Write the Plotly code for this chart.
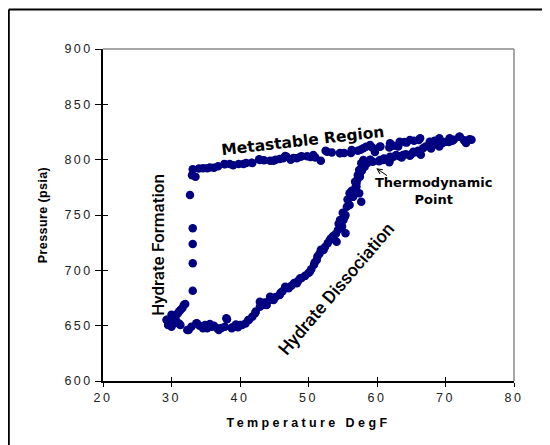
import plotly.graph_objects as go

# ---------------- data ----------------
# Cooling along the metastable line (high T -> hydrate onset)
cool_temp = [73.8, 73.5, 73.0, 72.7, 72.1, 72.0, 71.2, 70.6, 70.5, 69.2, 69.1, 68.4, 67.9,
             67.7, 66.3, 66.1, 65.4, 64.8, 64.3, 64.0, 63.3, 63.1, 62.4, 61.9, 61.8, 60.5,
             60.4, 59.7, 59.3, 59.0, 58.4, 58.0, 57.6, 57.2, 56.3, 56.2, 55.2, 54.6, 54.6,
             53.4, 52.7, 52.5, 51.8, 51.0, 50.7, 50.3, 49.8, 49.0, 48.8, 48.3, 47.8, 47.4,
             46.8, 46.6, 46.3, 45.8, 45.2, 44.9, 44.4, 43.5, 42.9, 42.8, 41.8, 41.7, 40.9,
             40.5, 39.8, 39.0, 38.5, 37.8, 37.7, 36.8, 36.2, 35.6, 35.2, 34.6, 34.0, 33.5,
             33.1, 33.0]
cool_pres = [818.0, 818.4, 815.0, 817.5, 820.8, 820.8, 818.0, 819.3, 816.0, 817.8, 819.3, 817.0,
             815.0, 816.2, 819.3, 817.8, 817.0, 817.8, 815.4, 816.0, 816.2, 812.0, 812.5, 814.8,
             811.0, 812.0, 811.7, 807.0, 811.0, 813.3, 811.7, 810.3, 809.0, 808.0, 808.7, 806.0,
             806.0, 805.8, 806.0, 806.5, 807.2, 808.0, 799.0, 802.0, 804.2, 802.5, 803.0, 803.0,
             802.7, 801.2, 801.5, 800.0, 802.7, 803.3, 801.2, 800.6, 800.0, 799.0, 799.0, 799.5,
             799.7, 800.3, 797.0, 797.3, 797.0, 796.0, 796.0, 795.0, 796.0, 795.8, 796.0, 794.0,
             792.8, 793.0, 792.2, 792.2, 792.0, 784.6, 791.3, 786.0]

# Hydrate formation (pressure drop at ~33 F)
form_temp = [32.7, 33.1, 33.1, 33.1, 33.1]
form_pres = [768.1, 738.0, 723.8, 706.4, 681.6]

# Low-temperature cluster
low_temp = [32.0, 31.8, 31.6, 31.3, 31.1, 30.9, 30.6, 30.1, 30.0, 29.8, 29.3, 29.3, 29.5,
            30.0, 30.5, 31.1, 31.3, 32.3, 32.5, 32.9, 33.6, 33.7, 34.1, 34.6, 34.9, 35.2,
            35.6, 35.9, 36.2, 36.7, 36.9, 37.3, 37.8, 38.0, 38.1, 38.8, 38.9, 39.4, 39.7,
            40.0, 40.3, 40.8]
low_pres = [669.6, 668.7, 666.0, 664.2, 662.8, 661.0, 656.0, 658.1, 659.8, 653.0, 655.1, 655.3,
            650.6, 649.0, 652.1, 652.0, 650.6, 646.0, 646.1, 649.0, 652.0, 652.1, 650.0, 647.7,
            650.5, 647.6, 651.6, 649.0, 650.0, 647.7, 646.1, 648.0, 649.0, 656.7, 655.8, 647.7,
            648.5, 651.0, 648.5, 650.6, 650.7, 652.0]

# Hydrate dissociation (heating)
diss_temp = [41.2, 41.3, 41.8, 42.2, 42.3, 42.9, 42.9, 43.3, 43.6, 43.9, 44.3, 44.4, 44.9,
             45.2, 45.8, 45.9, 46.2, 46.6, 46.7, 47.1, 47.5, 47.9, 48.3, 48.5, 48.8, 49.0,
             49.5, 50.0, 50.2, 50.4, 50.8, 50.9, 51.2, 51.3, 51.6, 51.8, 52.2, 52.4, 52.8,
             53.1, 53.3, 53.6, 54.0, 54.1, 54.3, 54.4, 54.6, 54.8, 54.9, 55.0, 55.1, 55.3,
             55.4, 55.4, 55.6, 55.7, 55.9, 56.0, 56.0, 56.2, 56.3, 56.5, 56.5, 56.8, 56.9,
             57.0, 57.0, 57.1, 57.2, 57.4, 57.4, 57.5, 57.5, 57.7, 57.8, 58.2]
diss_pres = [655.1, 655.2, 658.0, 661.2, 662.7, 667.1, 671.7, 668.7, 671.0, 668.6, 673.2, 676.2,
             673.2, 676.0, 677.7, 679.5, 681.0, 685.2, 684.0, 683.8, 686.0, 688.5, 688.3, 690.5,
             692.8, 693.0, 695.0, 697.5, 698.8, 701.0, 705.0, 707.0, 709.3, 712.5, 715.0, 718.5,
             718.4, 721.0, 724.5, 727.4, 729.0, 731.0, 733.0, 725.9, 736.4, 742.0, 745.5, 739.4,
             739.5, 752.0, 745.5, 748.5, 750.0, 733.5, 757.5, 764.0, 759.0, 759.0, 769.6, 768.0,
             772.0, 766.5, 766.5, 780.0, 775.6, 775.6, 778.6, 781.6, 786.0, 769.6, 790.7, 784.6,
             787.7, 762.0, 790.0, 793.7]

# Heating beyond the thermodynamic point
heat_temp = [57.7, 58.0, 58.6, 59.0, 59.0, 59.4, 60.3, 60.4, 60.9, 61.0, 61.3, 61.8, 61.9,
             62.0, 62.4, 62.8, 63.3, 63.6, 63.8, 64.2, 64.8, 65.0, 65.3, 65.6, 66.0, 66.4,
             66.7, 67.1, 67.9, 68.2, 68.8, 69.1, 69.6, 70.1, 71.0]
heat_pres = [796.7, 799.7, 797.0, 800.0, 799.7, 798.2, 798.6, 799.7, 799.7, 801.0, 800.7, 797.7,
             802.7, 801.0, 802.7, 804.2, 803.0, 802.0, 804.2, 805.0, 803.5, 805.0, 807.2, 806.6,
             808.0, 804.5, 810.3, 812.0, 810.0, 813.3, 814.0, 812.0, 815.0, 816.2, 817.0]

x_ticks = [20, 30, 40, 50, 60, 70, 80]
x_tick_labels = ["20", "30", "40", "50", "60", "70", "80"]
y_ticks = [600, 650, 700, 750, 800, 850, 900]
y_tick_labels = ["600", "650", "700", "750", "800", "850", "900"]

x_title = "Temperature DegF"
y_title = "Pressure (psia)"

# ---------------- figure ----------------
NAVY = "#000080"
# the page body adds an 8px offset, so margins are reduced by 8px
W, H = 542, 437
ML, MR, MT, MB = 95, 36, 41, 64
PW, PH = W - ML - MR, H - MT - MB


def spaced(s, ls):
    return f'<span style="letter-spacing:{ls}px">{s}</span>'


fig = go.Figure()
for tx, py in [(cool_temp, cool_pres), (form_temp, form_pres), (low_temp, low_pres),
               (diss_temp, diss_pres), (heat_temp, heat_pres)]:
    fig.add_trace(go.Scatter(x=tx, y=py, mode="markers",
                             marker=dict(size=8.5, color=NAVY, line=dict(width=0)),
                             showlegend=False, hoverinfo="skip"))

# empty trace on overlay axes (used only for the inner halves of the ticks)
fig.add_trace(go.Scatter(x=[], y=[], xaxis="x2", yaxis="y2", showlegend=False))

tick_font = dict(family="Liberation Sans, Arial, sans-serif", size=12.5, color="#222222")
title_font = dict(family="Liberation Sans, Arial, sans-serif", size=12.5, color="black", weight="bold")

fig.update_layout(
    width=W, height=H,
    margin=dict(l=ML, r=MR, t=MT, b=MB, pad=0, autoexpand=False),
    paper_bgcolor="white", plot_bgcolor="white",
    xaxis=dict(range=[20, 80], tickvals=x_ticks,
               ticktext=[spaced(t, 2.5) for t in x_tick_labels],
               ticks="outside", ticklen=4, tickwidth=1, tickcolor="black",
               showline=True, linecolor="black", linewidth=1.5,
               showgrid=False, zeroline=False, tickfont=tick_font, automargin=False,
               title=dict(text=spaced(x_title, 3.4), font=title_font, standoff=14),
               fixedrange=True),
    yaxis=dict(range=[600, 900], tickvals=y_ticks,
               ticktext=[spaced(t, 2.5) for t in y_tick_labels],
               ticks="outside", ticklen=6, tickwidth=1, tickcolor="black",
               showline=True, linecolor="black", linewidth=1.5,
               showgrid=False, zeroline=False, tickfont=tick_font, automargin=False,
               title=dict(text=spaced(y_title, 0.4), font=title_font, standoff=14),
               fixedrange=True),
    xaxis2=dict(range=[20, 80], overlaying="x", anchor="y2", side="bottom",
                tickvals=x_ticks, ticks="inside", ticklen=4, tickwidth=1, tickcolor="black",
                showticklabels=False, showline=False, showgrid=False, zeroline=False,
                automargin=False, fixedrange=True),
    yaxis2=dict(range=[600, 900], overlaying="y", anchor="x2", side="left",
                tickvals=y_ticks, ticks="inside", ticklen=5, tickwidth=1, tickcolor="black",
                showticklabels=False, showline=False, showgrid=False, zeroline=False,
                automargin=False, fixedrange=True),
)

# plot-area top/right borders (gray)
fig.add_shape(type="line", xref="paper", yref="paper", x0=0, x1=1, y0=1, y1=1,
              line=dict(color="#8a8a8a", width=1.5))
fig.add_shape(type="line", xref="paper", yref="paper", x0=1, x1=1, y0=0, y1=1,
              line=dict(color="#8a8a8a", width=1.5))
# outer frame (top and left edges; the others lie outside the window)
frame_left = (0.8 - ML) / PW
frame_top = (H - MB - 1.6) / PH
fig.add_shape(type="line", xref="paper", yref="paper",
              x0=frame_left, x1=(W - ML) / PW, y0=frame_top, y1=frame_top,
              line=dict(color="black", width=2))
fig.add_shape(type="line", xref="paper", yref="paper",
              x0=frame_left, x1=frame_left, y0=-MB / PH, y1=frame_top,
              line=dict(color="black", width=2))

bold_font = "DejaVu Sans, Verdana, sans-serif"
reg_font = "Roboto, Open Sans, sans-serif"
fig.add_annotation(x=49.2, y=816.5, text="Metastable Region", showarrow=False,
                   textangle=-6.5, xanchor="center", yanchor="middle",
                   font=dict(family=bold_font, size=15.5, color="black", weight="bold"))
fig.add_annotation(x=28.0, y=722.9, text="Hydrate Formation", showarrow=False,
                   textangle=-90, xanchor="center", yanchor="middle",
                   font=dict(family=reg_font, size=17, color="black", weight=500))
fig.add_annotation(x=54.0, y=684.0, text="Hydrate Dissociation", showarrow=False,
                   textangle=-49.5, xanchor="center", yanchor="middle",
                   font=dict(family=reg_font, size=18, color="black", weight=500))
fig.add_annotation(x=68.2, y=771.5, text="Thermodynamic<br>Point", showarrow=False,
                   xanchor="center", yanchor="middle", align="center",
                   font=dict(family=bold_font, size=13, color="black", weight="bold"))
fig.add_annotation(x=59.9, y=792.2, text="", showarrow=True, ax=12.3, ay=8.4,
                   arrowhead=5, arrowsize=1, arrowwidth=1, arrowcolor="black", standoff=0)

fig.write_html("out.html", config={"displayModeBar": False})
